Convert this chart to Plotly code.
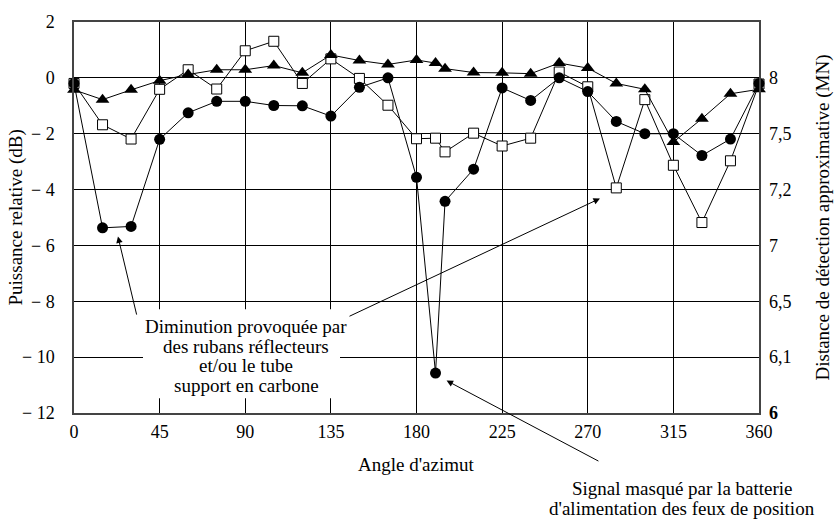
import plotly.graph_objects as go

angles = [0, 15, 30, 45, 60, 75, 90, 105, 120, 135, 150, 165, 180, 190, 195,
          210, 225, 240, 255, 270, 285, 300, 315, 330, 345, 360]

circle_db = [-0.2, -5.37, -5.32, -2.2, -1.25, -0.84, -0.84, -0.99, -1.0, -1.37, -0.34, 0.0,
             -3.56, -10.57, -4.42, -3.27, -0.36, -0.81, 0.0, -0.49, -1.56, -2.0, -2.0,
             -2.78, -2.19, -0.2]

square_db = [-0.2, -1.68, -2.19, -0.41, 0.29, -0.4, 0.97, 1.31, -0.2, 0.68, -0.02, -0.98,
             -2.18, -2.16, -2.65, -1.98, -2.44, -2.16, 0.21, -0.32, -3.94, -0.78, -3.13,
             -5.18, -2.97, -0.22]

triangle_db = [-0.43, -0.78, -0.43, -0.1, 0.12, 0.29, 0.29, 0.44, 0.18, 0.82, 0.62, 0.48,
               0.64, 0.53, 0.33, 0.19, 0.18, 0.15, 0.53, 0.35, -0.2, -0.41, -2.3, -1.46,
               -0.57, -0.41]

x_ticks = [0, 45, 90, 135, 180, 225, 270, 315, 360]
y_ticks = [2, 0, -2, -4, -6, -8, -10, -12]
y_ticktext = ["2", "0", "− 2", "− 4", "− 6", "− 8", "− 10", "− 12"]
y2_ticks = [0, -2, -4, -6, -8, -10, -12]
y2_ticktext = ["8", "7,5", "7,2", "7", "6,5", "6,1", "<b>6</b>"]

box_lines = ["Diminution provoquée par", "des rubans réflecteurs", "et/ou le tube",
             "support en carbone"]
signal_lines = ["Signal masqué par la batterie", "d'alimentation des feux de position"]

FONT = "Liberation Serif"
W, H = 835, 526
ML, MR, MT, MB = 74, 76, 14, 113
PW, PH = W - ML - MR, H - MT - MB


def px(xp):
    return (xp - ML) / PW


def py(yp):
    return (H - MB - yp) / PH


fig = go.Figure()

fig.add_trace(go.Scatter(
    x=angles, y=square_db, mode="lines+markers",
    line=dict(color="black", width=1),
    marker=dict(symbol="square", size=10, color="white", line=dict(color="black", width=1)),
    cliponaxis=False, showlegend=False))
fig.add_trace(go.Scatter(
    x=angles, y=triangle_db, mode="lines+markers",
    line=dict(color="black", width=1),
    marker=dict(symbol="triangle-up", size=12, color="black"),
    cliponaxis=False, showlegend=False))
fig.add_trace(go.Scatter(
    x=angles, y=circle_db, mode="lines+markers",
    line=dict(color="black", width=1),
    marker=dict(symbol="circle", size=11, color="black"),
    cliponaxis=False, showlegend=False))
fig.add_trace(go.Scatter(
    x=[0], y=[0], yaxis="y2", mode="markers", marker=dict(opacity=0),
    hoverinfo="skip", showlegend=False))

fig.update_layout(
    width=W, height=H,
    margin=dict(l=ML, r=MR, t=MT, b=MB),
    paper_bgcolor="white", plot_bgcolor="white",
    font=dict(family=FONT, size=18, color="black"),
    xaxis=dict(range=[0, 360], tickvals=x_ticks, showgrid=True, gridcolor="black",
               gridwidth=1, showline=True, linecolor="#444", linewidth=1.5, mirror=True,
               zeroline=False, ticks="", ticklabelstandoff=2),
    yaxis=dict(range=[-12, 2], tickvals=y_ticks, ticktext=y_ticktext, showgrid=True,
               gridcolor="black", gridwidth=1, showline=True, linecolor="#444",
               linewidth=1.5, mirror=True, zeroline=False, ticks="", ticklabelstandoff=14),
    yaxis2=dict(range=[-12, 2], overlaying="y", side="right", tickvals=y2_ticks,
                ticktext=y2_ticktext, showgrid=False, zeroline=False, showline=False,
                ticks="", ticklabelstandoff=9),
)

ann_font = dict(family=FONT, size=19, color="black")
# axis titles
fig.add_annotation(text="Angle d'azimut", xref="paper", yref="paper", x=0.5, y=py(466),
                   showarrow=False, font=ann_font, yanchor="middle")
fig.add_annotation(text="Puissance relative (dB)", xref="paper", yref="paper", x=px(15),
                   y=0.5, textangle=-90, showarrow=False, font=ann_font, xanchor="center")
fig.add_annotation(text="Distance de détection approximative (MN)", xref="paper",
                   yref="paper", x=px(822), y=0.5, textangle=-90, showarrow=False,
                   font=ann_font, xanchor="center")

# white box behind the explanatory text
fig.add_shape(type="rect", xref="paper", yref="paper", x0=px(143), x1=px(340),
              y0=py(398), y1=py(307), fillcolor="white", line=dict(width=0), layer="above")
for i, t in enumerate(box_lines):
    fig.add_annotation(text=t, xref="paper", yref="paper", x=px(246), y=py(325 + 20 * i),
                       showarrow=False, font=ann_font, xanchor="center", yanchor="middle")

# arrows
arrows = [
    dict(x=23.1, y=-5.68, ax=33.1, ay=-8.53),
    dict(x=276.4, y=-4.32, ax=144.0, ay=-8.56),
    dict(x=195.8, y=-10.84, ax=276.4, ay=-13.75),
]
for a in arrows:
    fig.add_annotation(text="", x=a["x"], y=a["y"], ax=a["ax"], ay=a["ay"], xref="x",
                       yref="y", axref="x", ayref="y", showarrow=True, arrowhead=2,
                       arrowsize=1.3, arrowwidth=1, arrowcolor="black", standoff=0)

for i, t in enumerate(signal_lines):
    fig.add_annotation(text=t, xref="paper", yref="paper", x=px(682), y=py(490 + 20 * i),
                       showarrow=False, font=ann_font, xanchor="center", yanchor="middle")

fig.write_html("out.html", config={"displayModeBar": False},
               post_script="document.body.style.margin='0';")
